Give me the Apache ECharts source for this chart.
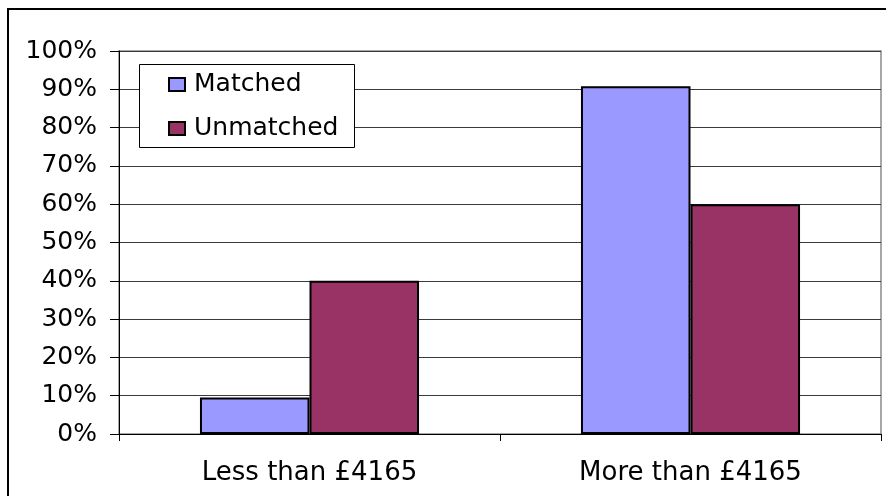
<!DOCTYPE html>
<html>
<head>
<meta charset="utf-8">
<script src="https://cdn.jsdelivr.net/npm/echarts@6/dist/echarts.min.js"></script>
<style>
html,body{margin:0;padding:0;background:#fff;}
#chart{width:886px;height:496px;}
</style>
</head>
<body>
<div id="chart"></div>
<script>
const categories = ['Less than £4165', 'More than £4165'];
const seriesNames = ['Matched', 'Unmatched'];
const matched = [9.5, 90.8];
const unmatched = [40, 60];
const yTicks = { min: 0, max: 100, interval: 10 };

const chart = echarts.init(document.getElementById('chart'), null, { renderer: 'canvas' });
const font = 'DejaVu Sans';
chart.setOption({
  animation: false,
  backgroundColor: '#ffffff',
  textStyle: { fontFamily: font },
  grid: {
    left: 119, right: 5, top: 51, bottom: 62,
    show: true, borderColor: '#8a8a8a', borderWidth: 1.5, backgroundColor: 'transparent'
  },
  graphic: [
    { type: 'rect', z: 0, silent: true,
      shape: { x: 8, y: 9, width: 900, height: 520 },
      style: { fill: 'none', stroke: '#000', lineWidth: 2 } },
    { type: 'rect', z: 50, silent: true,
      shape: { x: 139.5, y: 64.5, width: 215, height: 83 },
      style: { fill: '#fff', stroke: '#000', lineWidth: 1 } }
  ],
  legend: {
    z: 60,
    orient: 'vertical',
    left: 163, top: 67,
    itemWidth: 16, itemHeight: 13,
    itemGap: 19,
    icon: 'rect',
    data: seriesNames,
    textStyle: { fontFamily: font, fontSize: 25, color: '#000', padding: [0, 0, 0, 4] }
  },
  xAxis: {
    type: 'category',
    data: categories,
    boundaryGap: true,
    axisLine: { lineStyle: { color: '#000', width: 1 } },
    axisTick: { show: true, alignWithLabel: false, length: 7, lineStyle: { color: '#000' } },
    axisLabel: { fontFamily: font, fontSize: 26, color: '#000', margin: 26 }
  },
  yAxis: {
    type: 'value',
    min: yTicks.min, max: yTicks.max, interval: yTicks.interval,
    axisLine: { show: true, lineStyle: { color: '#000', width: 1 } },
    axisTick: { show: true, length: 9, lineStyle: { color: '#000' } },
    axisLabel: { fontFamily: font, fontSize: 25, color: '#000', margin: 22, formatter: '{value}%' },
    splitLine: { show: true, lineStyle: { color: '#3a3a3a', width: 1 } }
  },
  series: [
    { name: seriesNames[0], type: 'bar', data: matched,
      barGap: '0%', barCategoryGap: '42.5%',
      itemStyle: { color: '#9999FF', borderColor: '#000', borderWidth: 2 } },
    { name: seriesNames[1], type: 'bar', data: unmatched,
      barGap: '0%', barCategoryGap: '42.5%',
      itemStyle: { color: '#993366', borderColor: '#000', borderWidth: 2 } }
  ]
});
</script>
</body>
</html>
